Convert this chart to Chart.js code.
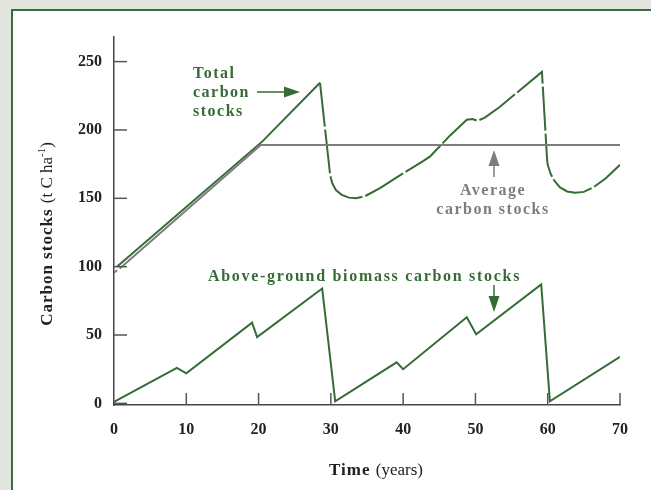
<!DOCTYPE html>
<html>
<head>
<meta charset="utf-8">
<script src="https://cdn.jsdelivr.net/npm/chart.js@4"></script>
<style>
  body { margin:0; background:#e3e6df; width:651px; height:490px; overflow:hidden; position:relative; }
  #panel { position:absolute; left:11px; top:9px; width:660px; height:500px; background:#fff; border:2px solid #3c6a3c; }
  #myChart { position:absolute; left:0; top:0; }
</style>
</head>
<body>
<div id="panel"></div>
<canvas id="myChart" width="651" height="490"></canvas>
<script>

// values (t C / ha against years)
var totalYears  = [0.4, 20.6, 28.5, 29.9, 30.2, 30.7, 31.5, 32.5, 33.5, 34.7, 36.8, 39.6, 42.7, 43.7, 46.5, 48.8, 49.6, 50.3, 51.3, 53.4, 59.2, 59.9, 60.0, 60.4, 60.9, 61.7, 62.7, 63.8, 65.0, 66.3, 68.0, 70.0];
var totalStocks = [100, 192, 234.5, 167, 161, 156, 152.5, 150.5, 150, 151.5, 157.5, 167, 177, 180.5, 196, 207.5, 208, 206.7, 209, 217, 242.5, 179.6, 174.5, 168, 163, 158, 155, 154, 154.7, 158, 164.5, 174.5];

var averageYears  = [0, 1.2, 20.3, 70];
var averageStocks = [95.5, 100.5, 189, 189];

var biomassYears  = [0, 8.7, 10.0, 19.1, 19.8, 28.8, 30.6, 39.1, 40.0, 48.8, 50.1, 59.1, 60.3, 70.0];
var biomassStocks = [1, 26, 22, 59, 48.5, 84, 1.5, 30, 25, 63, 50.5, 87, 1.5, 34];

var xTicks = [0, 10, 20, 30, 40, 50, 60, 70];
var yTicks = [0, 50, 100, 150, 200, 250];

var green = "#356b35";
var grey = "#7d7d7d";
var serif = "'Liberation Serif', 'Times New Roman', serif";

function toPoints(xs, ys) {
  var out = [];
  for (var i = 0; i < xs.length; i++) {
    out.push({ x: xs[i], y: ys[i] });
  }
  return out;
}

function arrow(ctx, x1, y1, x2, y2, color) {
  var ang = Math.atan2(y2 - y1, x2 - x1);
  var head = 16, half = 5.5;
  ctx.strokeStyle = color;
  ctx.fillStyle = color;
  ctx.lineWidth = 1.5;
  ctx.beginPath();
  ctx.moveTo(x1, y1);
  ctx.lineTo(x2 - Math.cos(ang) * head, y2 - Math.sin(ang) * head);
  ctx.stroke();
  ctx.beginPath();
  ctx.moveTo(x2, y2);
  ctx.lineTo(x2 - Math.cos(ang) * head - Math.sin(ang) * half, y2 - Math.sin(ang) * head + Math.cos(ang) * half);
  ctx.lineTo(x2 - Math.cos(ang) * head + Math.sin(ang) * half, y2 - Math.sin(ang) * head - Math.cos(ang) * half);
  ctx.closePath();
  ctx.fill();
}

function label(ctx, text, x, y, color, align, spacing) {
  ctx.font = "bold 16px " + serif;
  ctx.letterSpacing = spacing + "px";
  ctx.fillStyle = color;
  ctx.textAlign = align;
  ctx.textBaseline = "alphabetic";
  ctx.fillText(text, x, y);
  ctx.letterSpacing = "0px";
}

// tick marks pointing inwards, axis titles, annotations
var extras = {
  id: "extras",
  afterDraw: function (chart) {
    var ctx = chart.ctx;
    var xs = chart.scales.x, ys = chart.scales.y;
    var area = chart.chartArea;
    ctx.save();

    ctx.lineWidth = 1.5;
    ctx.strokeStyle = "#555";
    for (var i = 0; i < yTicks.length; i++) {
      var py = ys.getPixelForValue(yTicks[i]);
      ctx.beginPath();
      ctx.moveTo(area.left, py);
      ctx.lineTo(area.left + 13, py);
      ctx.stroke();
    }
    for (var j = 1; j < xTicks.length; j++) {
      var px = xs.getPixelForValue(xTicks[j]);
      ctx.beginPath();
      ctx.moveTo(px, area.bottom);
      ctx.lineTo(px, area.bottom - 12);
      ctx.stroke();
    }

    // y title
    ctx.save();
    ctx.translate(52, 234);
    ctx.rotate(-Math.PI / 2);
    ctx.fillStyle = "#222";
    ctx.textBaseline = "alphabetic";
    ctx.textAlign = "left";
    ctx.font = "bold 17px " + serif;
    ctx.letterSpacing = "1px";
    var w1 = ctx.measureText("Carbon stocks ").width;
    ctx.letterSpacing = "0px";
    ctx.font = "17px " + serif;
    var w2 = ctx.measureText("(t C ha").width;
    ctx.font = "11px " + serif;
    var w3 = ctx.measureText("-1").width;
    ctx.font = "17px " + serif;
    var w4 = ctx.measureText(")").width;
    var sx = -(w1 + w2 + w3 + w4) / 2;
    ctx.font = "bold 17px " + serif;
    ctx.letterSpacing = "1px";
    ctx.fillText("Carbon stocks ", sx, 0);
    ctx.letterSpacing = "0px";
    ctx.font = "17px " + serif;
    ctx.fillText("(t C ha", sx + w1, 0);
    ctx.font = "11px " + serif;
    ctx.fillText("-1", sx + w1 + w2, -7);
    ctx.font = "17px " + serif;
    ctx.fillText(")", sx + w1 + w2 + w3, 0);
    ctx.restore();

    // x title
    ctx.fillStyle = "#222";
    ctx.textBaseline = "alphabetic";
    ctx.textAlign = "left";
    ctx.font = "bold 17px " + serif;
    ctx.letterSpacing = "1px";
    var t1 = ctx.measureText("Time ").width;
    ctx.letterSpacing = "0px";
    ctx.font = "17px " + serif;
    var t2 = ctx.measureText("(years)").width;
    var tx = 376 - (t1 + t2) / 2;
    ctx.font = "bold 17px " + serif;
    ctx.letterSpacing = "1px";
    ctx.fillText("Time ", tx, 475);
    ctx.letterSpacing = "0px";
    ctx.font = "17px " + serif;
    ctx.fillText("(years)", tx + t1, 475);

    // annotations
    label(ctx, "Total", 193, 78, green, "left", 1.5);
    label(ctx, "carbon", 193, 97, green, "left", 1.5);
    label(ctx, "stocks", 193, 116, green, "left", 1.5);
    arrow(ctx, 257, 92, 300, 92, green);

    label(ctx, "Average", 493, 195, grey, "center", 1.5);
    label(ctx, "carbon stocks", 493, 214, grey, "center", 1.5);
    arrow(ctx, 494, 177, 494, 150, grey);

    label(ctx, "Above-ground biomass carbon stocks", 208, 281, green, "left", 1.7);
    arrow(ctx, 494, 285, 494, 312, green);

    ctx.restore();
  }
};

function init() {
  var ctx = document.getElementById("myChart").getContext("2d");
  var chart = new Chart(ctx, {
    type: "line",
    data: {
      datasets: [
        {
          label: "Average carbon stocks",
          data: toPoints(averageYears, averageStocks),
          borderColor: grey,
          borderWidth: 2,
          pointRadius: 0,
          segment: {
            borderDash: function (c) { return c.p0DataIndex === 0 ? [4, 3] : undefined; }
          }
        },
        {
          label: "Total carbon stocks",
          data: toPoints(totalYears, totalStocks),
          borderColor: green,
          borderWidth: 2,
          pointRadius: 0,
          segment: {
            borderDash: function (c) { return c.p0DataIndex >= 2 ? [44, 3] : undefined; }
          }
        },
        {
          label: "Above-ground biomass carbon stocks",
          data: toPoints(biomassYears, biomassStocks),
          borderColor: green,
          borderWidth: 2,
          pointRadius: 0
        }
      ]
    },
    options: {
      responsive: false,
      animation: false,
      layout: { padding: { top: 37, right: 31, left: 0, bottom: 0 } },
      plugins: { legend: { display: false }, tooltip: { enabled: false } },
      scales: {
        x: {
          type: "linear",
          min: 0,
          max: 70,
          afterBuildTicks: function (s) { s.ticks = xTicks.map(function (v) { return { value: v }; }); },
          afterFit: function (s) { s.height = 85; },
          grid: { drawOnChartArea: false, drawTicks: false },
          border: { color: "#444", width: 1.5 },
          ticks: { color: "#222", padding: 15, font: { family: serif, size: 16, weight: "bold" } }
        },
        y: {
          min: -1.2,
          max: 268,
          afterBuildTicks: function (s) { s.ticks = yTicks.map(function (v) { return { value: v }; }); },
          afterFit: function (s) { s.width = 114; },
          grid: { drawOnChartArea: false, drawTicks: false },
          border: { color: "#444", width: 1.5 },
          ticks: { color: "#222", padding: 12, font: { family: serif, size: 16, weight: "bold" } }
        }
      }
    },
    plugins: [extras]
  });
}

init();
</script>
</body>
</html>
